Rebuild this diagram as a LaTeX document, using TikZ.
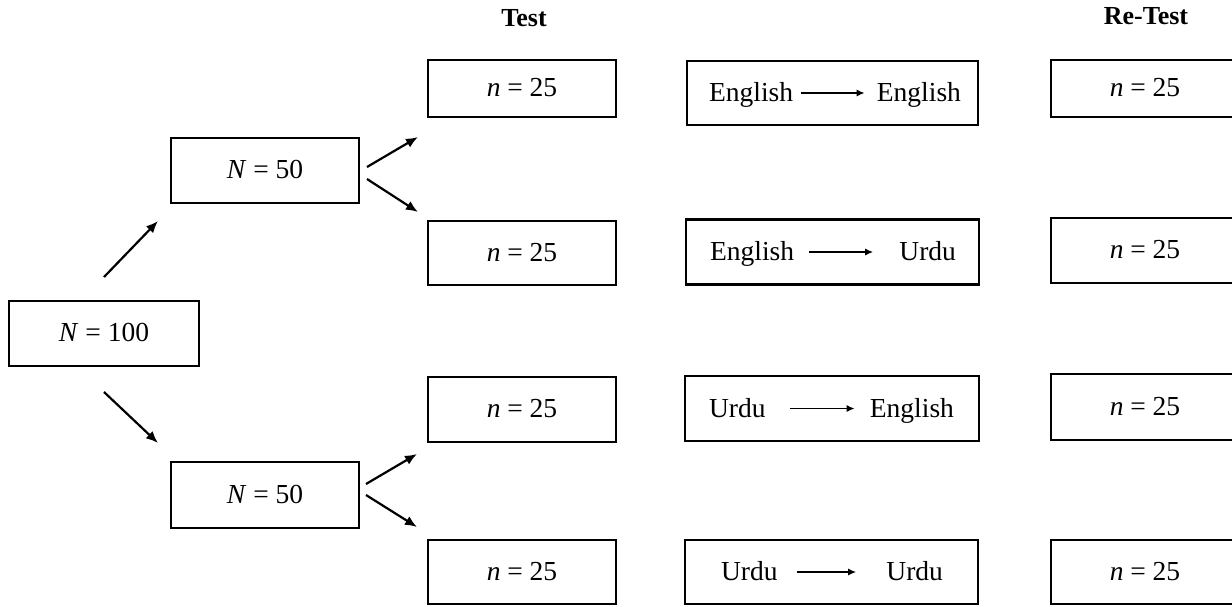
\documentclass[tikz,border=0pt]{standalone}
\usepackage{fontspec}
\setmainfont{Liberation Serif}
\usetikzlibrary{arrows.meta,calc}
\begin{document}
\begin{tikzpicture}[x=1pt,y=-1pt,
  box/.style={draw, line width=2.3pt, inner sep=0pt,
    font=\fontsize{27.5}{30}\selectfont, text height=19pt, text depth=2.75pt},
  word/.style={inner sep=0pt, font=\fontsize{27.5}{30}\selectfont,
    text height=20.6pt, text depth=2.75pt},
  title/.style={inner sep=0pt, anchor=base, font=\fontsize{26}{30}\selectfont\bfseries},
  arr/.style={-{Latex[length=12pt,width=10pt]}, line width=2.2pt},
  sarr/.style={-{Latex[length=8pt,width=7pt]}, line width=1.8pt}]
\useasboundingbox (0,0) rectangle (1232,606);
\clip (0,0) rectangle (1232,606);

% titles
\node[title] (ttest) at (524,26) {Test};
\node[title] (tretest) at (1146,24) {Re-Test};

% left tree
\node[box, minimum width=190pt, minimum height=65pt] (root) at (104,333.5) {\textit{N} = 100};
\node[box, minimum width=188pt, minimum height=65pt] (a1) at (265,170.5) {\textit{N} = 50};
\node[box, minimum width=188pt, minimum height=66pt] (a2) at (265,495) {\textit{N} = 50};

% test column
\node[box, minimum width=188pt, minimum height=57pt] (t1) at (522,88.5) {\textit{n} = 25};
\node[box, minimum width=188pt, minimum height=64pt] (t2) at (522,253) {\textit{n} = 25};
\node[box, minimum width=188pt, minimum height=65pt] (t3) at (522,409.5) {\textit{n} = 25};
\node[box, minimum width=188pt, minimum height=64pt] (t4) at (522,572) {\textit{n} = 25};

% middle column
\node[box, minimum width=291pt, minimum height=64pt] (m1) at (832.5,93) {};
\node[box, minimum width=293pt, minimum height=65pt] (m2) at (832.5,252) {};
\node[box, minimum width=294pt, minimum height=65pt] (m3) at (832,408.5) {};
\node[box, minimum width=293pt, minimum height=64pt] (m4) at (831.5,572) {};

\node[word, anchor=west] (m1l) at ([xshift=23pt]m1.west) {English};
\node[word, anchor=east] (m1r) at ([xshift=-18pt]m1.east) {English};
\node[word, anchor=west] (m2l) at ([xshift=25pt]m2.west) {English};
\node[word, anchor=east] (m2r) at ([xshift=-24pt]m2.east) {Urdu};
\node[word, anchor=west] (m3l) at ([xshift=25pt]m3.west) {Urdu};
\node[word, anchor=east] (m3r) at ([xshift=-26pt]m3.east) {English};
\node[word, anchor=west] (m4l) at ([xshift=37pt]m4.west) {Urdu};
\node[word, anchor=east] (m4r) at ([xshift=-36pt]m4.east) {Urdu};

\draw[sarr] ([xshift=8pt]m1l.east) -- ([xshift=-12pt]m1r.west);
\draw[sarr] ([xshift=15pt]m2l.east) -- ([xshift=-26pt]m2r.west);
\draw[sarr] ([xshift=24pt]m3l.east) -- ([xshift=-15pt]m3r.west);
\draw[sarr] ([xshift=19pt]m4l.east) -- ([xshift=-30pt]m4r.west);

% re-test column
\node[box, minimum width=188pt, minimum height=57pt] (r1) at (1145,88.5) {\textit{n} = 25};
\node[box, minimum width=188pt, minimum height=65pt] (r2) at (1145,250.5) {\textit{n} = 25};
\node[box, minimum width=188pt, minimum height=66pt] (r3) at (1145,407) {\textit{n} = 25};
\node[box, minimum width=188pt, minimum height=64pt] (r4) at (1145,572) {\textit{n} = 25};

% arrow end points
\coordinate (rus) at (104,277);  \coordinate (rue) at (158,221);
\coordinate (rds) at (104,392);  \coordinate (rde) at (158,443);
\coordinate (a1us) at (367,167); \coordinate (a1ue) at (418,137);
\coordinate (a1ds) at (367,179); \coordinate (a1de) at (418,212);
\coordinate (a2us) at (366,484); \coordinate (a2ue) at (417,454);
\coordinate (a2ds) at (366,495); \coordinate (a2de) at (417,527);

\draw[arr] (rus) -- (rue);
\draw[arr] (rds) -- (rde);
\draw[arr] (a1us) -- (a1ue);
\draw[arr] (a1ds) -- (a1de);
\draw[arr] (a2us) -- (a2ue);
\draw[arr] (a2ds) -- (a2de);
\end{tikzpicture}
\end{document}
